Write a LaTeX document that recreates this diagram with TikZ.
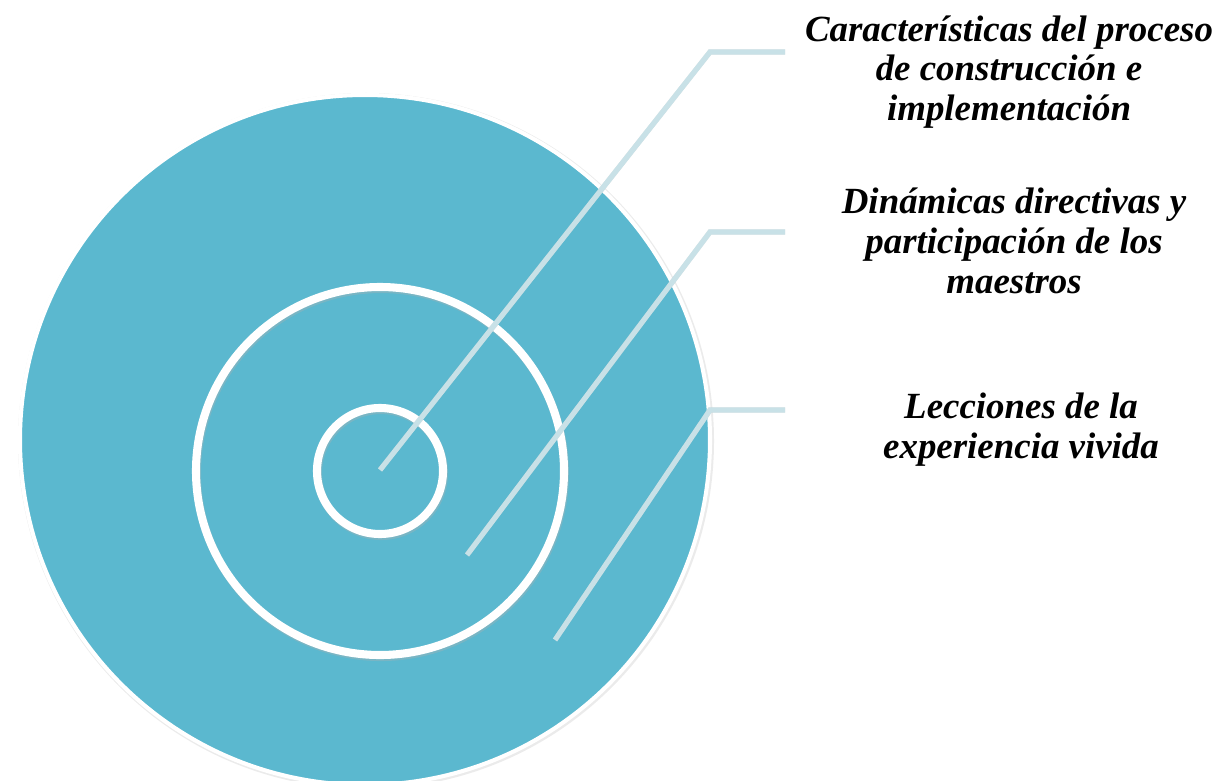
\documentclass[tikz,border=0pt]{standalone}
\usepackage{fontspec}
\setmainfont{Liberation Serif}
\usepackage{tikz}
\definecolor{anillo}{HTML}{5BB8CF}
\definecolor{guia}{HTML}{C8E1E7}
\tikzset{
  disco/.style={fill=anillo, draw=white, line width=2.3pt},
  aro/.style={draw=white, line width=4.6pt},
  guialinea/.style={draw=guia, line width=3pt, line join=miter},
  sombra/.style={draw=black!40, opacity=0.25, line width=3pt},
  rotulo/.style={align=center, font=\fontsize{21}{22.7}\selectfont\bfseries\itshape}
}

\begin{document}
\begin{tikzpicture}[x=0.02cm,y=-0.02cm]
\useasboundingbox (0,0) rectangle (1222,780);
\fill[black!8] (366,441) circle (348);
\draw[disco] (365,440) circle (345);
\draw[aro,black!30,opacity=0.35] (381,473) circle (184);
\draw[aro] (380,471) circle (184);
\draw[aro,black!30,opacity=0.35] (381,473) circle (63);
\draw[aro] (380,471) circle (63);
\coordinate (p1) at (380,470);
\coordinate (k1) at (710,52);
\coordinate (e1) at (785,52);
\coordinate (p2) at (467,555);
\coordinate (k2) at (710,232);
\coordinate (e2) at (785,232);
\coordinate (p3) at (555,640);
\coordinate (k3) at (710,410);
\coordinate (e3) at (785,410);
\foreach \i in {1,2,3}{
  \draw[sombra,shift={(2,3)}] (p\i) -- (k\i) -- (e\i);
  \draw[guialinea] (p\i) -- (k\i) -- (e\i);
}
\node[rotulo] (l1) at (1009,72) {Características del proceso\\de construcción e\\implementación};
\node[rotulo] (l2) at (1014,241) {Dinámicas directivas y\\participación de los\\maestros};
\node[rotulo] (l3) at (1021,430) {Lecciones de la\\experiencia vivida};
\end{tikzpicture}
\end{document}
